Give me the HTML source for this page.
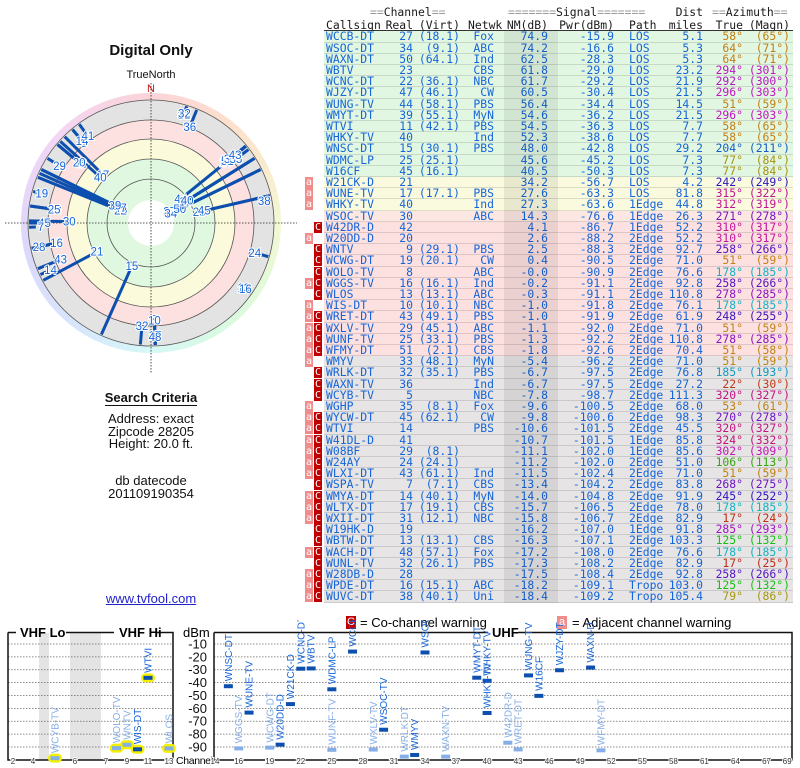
<!DOCTYPE html>
<html><head><meta charset="utf-8">
<style>
*{margin:0;padding:0;box-sizing:border-box}
body{width:800px;height:768px;overflow:hidden;background:#fff;position:relative;font-family:"Liberation Sans",sans-serif}
.abs{position:absolute;white-space:nowrap}
.ctr{position:absolute;left:0;width:302px;text-align:center;font-size:13px;color:#111}
.mono{font-family:"DejaVu Sans Mono","Liberation Mono",monospace;font-size:11.4px}
.row{position:absolute;left:324px;width:469px;height:11.2px;border-bottom:1px solid rgba(0,0,0,0.12)}
.c{position:absolute;top:-1px;line-height:12px;color:#1565d8}
.warn{position:absolute;width:8px;height:11px;font-size:10px;line-height:11px;text-align:center;color:#fff;font-family:"DejaVu Sans Mono",monospace}
</style></head><body>
<div class="ctr" style="top:42px;font-size:15px;font-weight:bold">Digital Only</div>
<div class="ctr" style="top:69px;font-size:11px">TrueNorth</div>
<svg id="polar" class="abs" style="left:0;top:80px" width="302" height="300"></svg>
<div class="ctr" style="top:390px;font-weight:bold"><span style="border-bottom:1.5px solid #111">Search Criteria</span></div>
<div class="ctr" style="top:413px;line-height:12.5px">Address: exact<br>Zipcode 28205<br>Height: 20.0 ft.</div>
<div class="ctr" style="top:475px;line-height:12.5px">db datecode<br>201109190354</div>
<div class="ctr" style="top:591px;color:#2222cc;text-decoration:underline">www.tvfool.com</div>

<div class="abs mono" style="left:370px;top:5px;color:#1a1a1a"><span style="color:#999">==</span>Channel<span style="color:#999">==</span></div>
<div id="hdr"></div>
<div id="tbl"></div>
<div class="abs" style="left:504px;top:31px;width:54px;height:572px;background:rgba(0,0,0,0.07)"></div>

<div class="abs" style="left:346px;top:616px;width:10px;height:13px;background:#c00000;color:#fff;font-size:11px;text-align:center;line-height:13px">C</div>
<div class="abs" style="left:360px;top:615px;font-size:13px">= Co-channel warning</div>
<div class="abs" style="left:557px;top:616px;width:10px;height:13px;background:#f08c8c;color:#fff;font-size:11px;text-align:center;line-height:13px">a</div>
<div class="abs" style="left:572px;top:615px;font-size:13px">= Adjacent channel warning</div>

<svg id="bars" class="abs" style="left:0;top:620px" width="800" height="148"></svg>

<script>
const callsigns=["WCCB-DT","WSOC-DT","WAXN-DT","WBTV","WCNC-DT","WJZY-DT","WUNG-TV","WMYT-DT","WTVI","WHKY-TV","WNSC-DT","WDMC-LP","W16CF","W21CK-D","WUNE-TV","WHKY-TV","WSOC-TV","W42DR-D","W20DD-D","WNTV","WCWG-DT","WOLO-TV","WGGS-TV","WLOS","WIS-DT","WRET-DT","WXLV-TV","WUNF-TV","WFMY-DT","WMYV","WRLK-DT","WAXN-TV","WCYB-TV","WGHP","WYCW-DT","WTVI","W41DL-D","W08BF","W24AY","WLXI-DT","WSPA-TV","WMYA-DT","WLTX-DT","WXII-DT","W19HK-D","WBTW-DT","WACH-DT","WUNL-TV","W28DB-D","WPDE-DT","WUVC-DT"];
const realCh=[27,34,50,23,22,47,44,39,11,40,15,25,45,21,17,40,30,42,20,9,19,8,16,13,10,43,29,25,51,33,32,36,5,35,45,14,41,29,24,43,7,14,17,31,19,13,48,32,28,16,38];
const virtCh=["(18.1)","(9.1)","(64.1)","","(36.1)","(46.1)","(58.1)","(55.1)","(42.1)","","(30.1)","(25.1)","(16.1)","","(17.1)","","","","","(29.1)","(20.1)","","(16.1)","(13.1)","(10.1)","(49.1)","(45.1)","(33.1)","(2.1)","(48.1)","(35.1)","","","(8.1)","(62.1)","","","(8.1)","(24.1)","(61.1)","(7.1)","(40.1)","(19.1)","(12.1)","","(13.1)","(57.1)","(26.1)","","(15.1)","(40.1)"];
const networks=["Fox","ABC","Ind","CBS","NBC","CW","PBS","MyN","PBS","Ind","PBS","","","","PBS","Ind","ABC","","","PBS","CW","ABC","Ind","ABC","NBC","PBS","ABC","PBS","CBS","MyN","PBS","Ind","NBC","Fox","CW","PBS","","","","Ind","CBS","MyN","CBS","NBC","","CBS","Fox","PBS","","ABC","Uni"];
const nmDb=[74.9,74.2,62.5,61.8,61.7,60.5,56.4,54.6,54.5,52.3,48.0,45.6,40.5,34.2,27.6,27.3,14.3,4.1,2.6,2.5,0.4,-0.0,-0.2,-0.3,-1.0,-1.0,-1.1,-1.3,-1.8,-5.4,-6.7,-6.7,-7.8,-9.6,-9.8,-10.6,-10.7,-11.1,-11.2,-11.5,-13.4,-14.0,-15.7,-15.8,-16.2,-16.3,-17.2,-17.3,-17.5,-18.2,-18.4];
const pwrDbm=[-15.9,-16.6,-28.3,-29.0,-29.2,-30.4,-34.4,-36.2,-36.3,-38.6,-42.8,-45.2,-50.3,-56.7,-63.3,-63.6,-76.6,-86.7,-88.2,-88.3,-90.5,-90.9,-91.1,-91.1,-91.8,-91.9,-92.0,-92.2,-92.6,-96.2,-97.5,-97.5,-98.7,-100.5,-100.6,-101.5,-101.5,-102.0,-102.0,-102.4,-104.2,-104.8,-106.5,-106.7,-107.0,-107.1,-108.0,-108.2,-108.4,-109.1,-109.2];
const paths=["LOS","LOS","LOS","LOS","LOS","LOS","LOS","LOS","LOS","LOS","LOS","LOS","LOS","LOS","LOS","1Edge","1Edge","1Edge","2Edge","2Edge","2Edge","2Edge","2Edge","2Edge","2Edge","2Edge","2Edge","2Edge","2Edge","2Edge","2Edge","2Edge","2Edge","2Edge","2Edge","2Edge","1Edge","1Edge","2Edge","2Edge","2Edge","2Edge","2Edge","2Edge","1Edge","2Edge","2Edge","2Edge","2Edge","Tropo","Tropo"];
const distMi=[5.1,5.3,5.3,23.2,21.9,21.5,14.5,21.5,7.7,7.7,29.2,7.3,7.3,4.2,81.8,44.8,26.3,52.2,52.2,92.7,71.0,76.6,92.8,110.8,76.1,61.9,71.0,110.8,70.4,71.0,76.8,27.2,111.3,68.0,98.3,45.5,85.8,85.6,51.0,71.0,83.8,91.9,78.0,82.9,91.8,103.3,76.6,82.9,92.8,103.0,105.4];
const azTrue=[58,64,64,294,292,296,51,296,58,58,204,77,77,242,315,312,271,310,310,258,51,178,258,278,178,248,51,278,51,51,185,22,320,53,270,320,324,302,106,51,268,245,178,17,285,125,178,17,258,125,79];
const azMagn=[65,71,71,301,300,303,59,303,65,65,211,84,84,249,322,319,278,317,317,266,59,185,266,285,185,255,59,285,58,59,193,30,327,61,278,327,332,309,113,59,275,252,185,24,293,132,185,25,266,132,86];
const warnings=["","","","","","","","","","","","","","a","a","a","","C","a","C","C","C","aC","C","a","aC","aC","aC","aC","a","C","C","C","a","aC","aC","aC","aC","aC","aC","C","aC","aC","aC","C","C","aC","C","aC","aC","aC"];

const NS="http://www.w3.org/2000/svg";
function hueOf(a){const k=[[0,0],[17,8],[22,12],[51,38],[64,36],[79,55],[106,105],[125,120],[178,185],[204,215],[245,250],[270,272],[294,298],[320,322],[360,360]];
 for(let i=1;i<k.length;i++){if(a<=k[i][0]){const t=(a-k[i-1][0])/(k[i][0]-k[i-1][0]);return k[i-1][1]+t*(k[i][1]-k[i-1][1]);}}return 0;}
function azColor(a){const h=hueOf(a);const l=(h>40&&h<110)?36:42;return `hsl(${h},80%,${l}%)`;}
function mk(tag,attrs,parent){const e=document.createElementNS(NS,tag);for(const k in attrs)e.setAttribute(k,attrs[k]);parent.appendChild(e);return e;}

// header
const hdr=document.getElementById('hdr');
function htxt(x,y,s,anchor){const d=document.createElement('div');d.className='abs mono';d.style.top=y+'px';d.style.color='#1a1a1a';
 if(anchor==='r'){d.style.right=(800-x)+'px';}else d.style.left=x+'px';d.innerHTML=s;
 
 
 hdr.appendChild(d);}
const g='<span style="color:#999">';
htxt(508,5,g+'=======</span>Signal'+g+'=======</span>');
htxt(703,5,'Dist','r');
htxt(712,5,g+'==</span>Azimuth'+g+'==</span>');
htxt(326,18,'Callsign');htxt(413,18,'Real','r');htxt(460,18,'(Virt)','r');htxt(468,18,'Netwk');
htxt(548,18,'NM(dB)','r');htxt(614,18,'Pwr(dBm)','r');htxt(629,18,'Path');htxt(703,18,'miles','r');htxt(743,18,'True','r');htxt(790,18,'(Magn)','r');
const hl=document.createElement('div');hl.className='abs';hl.style.cssText='left:324px;top:30px;width:469px;height:1px;background:#333';


hdr.appendChild(hl);

// table
const tbl=document.getElementById('tbl');
const RH=11.2,T0=31.4;
callsigns.forEach((cs,i)=>{
 const r=document.createElement('div');r.className='row mono';r.style.top=(T0+i*RH)+'px';
 
 
 let bg='#e2f7e2';if(i>=13&&i<=15)bg='#fafadf';else if(i===16)bg='#fde7e2';else if(i>=17&&i<=28)bg='#fde0e0';else if(i>=29)bg='#e6e4e4';
 r.style.background=bg;
 const cells=[[2,'l',cs],[413,'r',realCh[i]],[460,'r',virtCh[i]],[494,'r',networks[i]],[548,'r',nmDb[i].toFixed(1).replace(/^0\.0$/,i===21?'-0.0':'0.0')],[614,'r',pwrDbm[i].toFixed(1)],[629,'l',paths[i]],[703,'r',distMi[i].toFixed(1)],[743,'r',azTrue[i]+'°'],[790,'r','('+azMagn[i]+'°)']];
 cells.forEach((c,j)=>{const s=document.createElement('span');s.className='c';s.textContent=c[2];
  if(c[1]==='l')s.style.left=(j===0?2:c[0]-324)+'px';else s.style.right=(793-c[0])+'px';
  if(j>=8)s.style.color=azColor(azTrue[i]);
  
  
  r.appendChild(s);});
 tbl.appendChild(r);
 const w=warnings[i];
 if(w.includes('a')){const a=document.createElement('div');a.className='warn';a.style.cssText+=`left:305px;top:${T0+i*RH}px;background:#f08c8c`;a.textContent='a';
  
  
  document.body.appendChild(a);}
 if(w.includes('C')){const a=document.createElement('div');a.className='warn';a.style.cssText+=`left:314px;top:${T0+i*RH}px;background:#c00000`;a.textContent='C';
  
  
  document.body.appendChild(a);}
});

// polar
const P=document.getElementById('polar');const cx=151,cy=143;
const fo=mk('foreignObject',{x:cx-130,y:cy-130,width:260,height:260},P);
const dv=document.createElement('div');dv.style.cssText='width:260px;height:260px;border-radius:50%;background:conic-gradient(#fbd4d8 0deg,#fde2cc 45deg,#f2f8d4 90deg,#dcfadc 135deg,#d6f8f6 180deg,#d8e6fc 215deg,#dcd8fa 260deg,#f2d6f6 310deg,#fbd4d8 360deg)';


fo.appendChild(dv);
mk('circle',{cx,cy,r:123,fill:'#e3e3e3'},P);
mk('circle',{cx,cy,r:103,fill:'#fde0e0'},P);
mk('circle',{cx,cy,r:84,fill:'#fbfbdc'},P);
mk('circle',{cx,cy,r:64,fill:'#e0f8e0'},P);
mk('circle',{cx,cy,r:23,fill:'#fff'},P);
[123,103,84,64,44].forEach(r=>mk('circle',{cx,cy,r,fill:'none',stroke:'#555','stroke-width':0.8},P));
mk('line',{x1:cx-146,y1:cy,x2:cx+146,y2:cy,stroke:'#222','stroke-width':0.8,'stroke-dasharray':'1.5,1.5'},P);
mk('line',{x1:cx,y1:cy-140,x2:cx,y2:cy+150,stroke:'#222','stroke-width':0.8,'stroke-dasharray':'1.5,1.5'},P);
const nt=mk('text',{x:cx,y:cy-131,fill:'#d01010','font-size':11,'text-anchor':'middle','font-family':'Liberation Sans'},P);nt.textContent='N';
function rOf(nm){return Math.max(27,Math.min(121,52+(48-nm)*1.03));}
callsigns.forEach((cs,i)=>{
 const a=azTrue[i]*Math.PI/180,r0=rOf(nmDb[i]);const sx=Math.sin(a),sy=-Math.cos(a);
 const l=mk('line',{x1:cx+sx*r0,y1:cy+sy*r0,x2:cx+sx*122,y2:cy+sy*122,stroke:'#0c4fae','stroke-width':3},P);
 
 
});
callsigns.forEach((cs,i)=>{
 const a=azTrue[i]*Math.PI/180,r0=rOf(nmDb[i]);const sx=Math.sin(a),sy=-Math.cos(a);
 const t=mk('text',{x:cx+sx*(r0-5),y:cy+sy*(r0-5)+4,fill:'#1565d8','font-size':11.5,'text-anchor':'middle','font-family':'Liberation Sans',stroke:'#fff','stroke-width':2,'paint-order':'stroke'},P);
 t.textContent=realCh[i];
 
 
});

// bottom chart
const B=document.getElementById('bars');const oy=620;
function yOf(d){return 631.1-oy+(-d)*1.2875;}
function vx(ch){if(ch<=4)return 13+(ch-2)*10;if(ch<=6)return 55+(ch-5)*10;return 106+(ch-7)*10.5;}
function ux(ch){return 218+(ch-14)*10.35;}
mk('rect',{x:39,y:13,width:10,height:127,fill:'#e4e4e4'},B);
mk('rect',{x:70,y:13,width:31,height:127,fill:'#e4e4e4'},B);
[-10,-20,-30,-40,-50,-60,-70,-80,-90].forEach(d=>{
 mk('line',{x1:8,y1:yOf(d),x2:173,y2:yOf(d),stroke:'#666','stroke-width':0.7,'stroke-dasharray':'1.5,1.5'},B);
 mk('line',{x1:214,y1:yOf(d),x2:792,y2:yOf(d),stroke:'#666','stroke-width':0.7,'stroke-dasharray':'1.5,1.5'},B);
 const t=mk('text',{x:207,y:yOf(d)+4.5,'font-size':13,'text-anchor':'end','font-family':'Liberation Sans',fill:'#111'},B);t.textContent=d;
 
 
});
mk('path',{d:'M8,12.5 V140 H173 V12.5 H157 M114,12.5 H66 M16,12.5 H8',fill:'none',stroke:'#111','stroke-width':1.5},B);
mk('path',{d:'M214,12.5 V140 H792 V12.5 H518 M488,12.5 H214',fill:'none',stroke:'#111','stroke-width':1.5},B);
[['VHF Lo',20],['VHF Hi',119],['UHF',492]].forEach(([s,x])=>{const t=mk('text',{x,y:17,'font-size':13,'font-weight':'bold','font-family':'Liberation Sans'},B);t.textContent=s;
 
 });
const dt=mk('text',{x:183,y:17,'font-size':13,'font-family':'Liberation Sans'},B);dt.textContent='dBm';
const ct=mk('text',{x:176,y:144,'font-size':10.5,'font-family':'Liberation Sans',textLength:37},B);ct.textContent='Channel';
[2,4,6,7,9,11,13].forEach(c=>{const t=mk('text',{x:vx(c)+(c===6?10:0),y:144,'font-size':8,'text-anchor':'middle','font-family':'Liberation Sans',fill:'#333',stroke:'#fff','stroke-width':2,'paint-order':'stroke'},B);t.textContent=c;
 
 });
[14,16,19,22,25,28,31,34,37,40,43,46,49,52,55,58,61,64,67,69].forEach(c=>{const t=mk('text',{x:ux(c)-(c===14?3:0),y:144,'font-size':8,'text-anchor':'middle','font-family':'Liberation Sans',fill:'#333',stroke:'#fff','stroke-width':2,'paint-order':'stroke'},B);t.textContent=c;
 
 });
callsigns.forEach((cs,i)=>{
 if(pwrDbm[i]<-100)return;
 const ch=realCh[i];const x=ch<=13?vx(ch):ux(ch);const y=yOf(pwrDbm[i]);
 const light=warnings[i].includes('C');const col=light?'#86aee6':'#0c4fae';
 if(ch<=13)mk('rect',{x:x-7,y:y-4.5,width:14,height:9,rx:4.5,fill:'#f4f000'},B);
 const b=mk('rect',{x:x-4.5,y:y-2,width:9,height:4,fill:col},B);
 
 
 const t=mk('text',{x:0,y:0,'font-size':10,'font-family':'Liberation Sans',fill:light?'#86aee6':'#1565d8',transform:`translate(${x+3.5},${y-5}) rotate(-90)`},B);
 t.textContent=cs;
 
 
});
</script>
</body></html>
